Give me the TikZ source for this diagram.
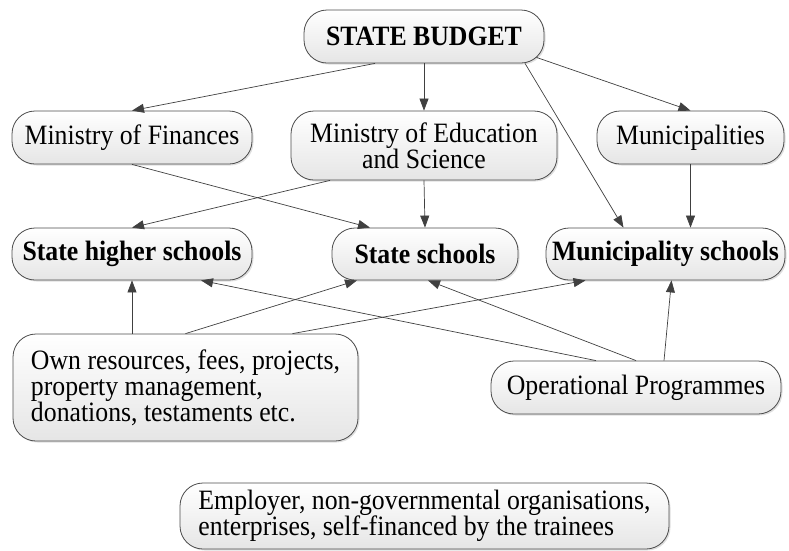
\documentclass[tikz,border=0pt]{standalone}
\usepackage{fontspec}
\setmainfont[FakeStretch=0.92]{Liberation Serif}
\usetikzlibrary{arrows.meta,shadows}
\tikzset{
  box/.style={draw=black!70,line width=0.8pt,rounded corners=23pt,top color=white,bottom color=black!10,
    drop shadow={shadow xshift=1.5pt,shadow yshift=-1.5pt,opacity=0.25},inner sep=0pt,
    font=\fontsize{28}{26}\selectfont},
  bbox/.style={box,font=\fontsize{28}{26}\selectfont\bfseries},
  flow/.style={-{Triangle[length=12pt,width=9pt]},draw=black!75,line width=0.7pt}
}
\begin{document}
\begin{tikzpicture}[x=1pt,y=-1pt]
    \useasboundingbox (0,0) rectangle (789,550);
    \node[bbox,minimum width=240pt,minimum height=53pt](budget)at(424,36.5){STATE BUDGET};
    \node[box,minimum width=240pt,minimum height=53pt](fin)at(132,137.5){Ministry of Finances};
    \node[box,minimum width=266pt,minimum height=69pt,align=center](edu)at(424,145.5){Ministry of Education\\and Science};
    \node[box,minimum width=187pt,minimum height=53pt](mun)at(690.5,137.5){Municipalities};
    \node[bbox,minimum width=240pt,minimum height=52pt](higher)at(132,254){State higher schools};
    \node[bbox,minimum width=186pt,minimum height=52pt](state)at(425,254){State schools};
    \node[bbox,minimum width=239pt,minimum height=52pt](munsch)at(665.5,254){Municipality schools};
    \node[box,minimum width=345pt,minimum height=107pt,align=left](own)at(185.5,387.5){Own resources, fees, projects,\\property management,\\donations, testaments etc.};
    \node[box,minimum width=290pt,minimum height=53pt](op)at(636,387.5){Operational Programmes};
    \node[box,minimum width=489pt,minimum height=66pt,align=left](emp)at(424.5,516){Employer, non-governmental organisations,\\enterprises, self-financed by the trainees};
    % budget lines
    \draw[flow]([xshift=-49pt]budget.south)--(fin.north);
    \draw[flow](budget.south)--(edu.north);
    \draw[flow]([xshift=-8pt,yshift=6pt]budget.south east)--(mun.north);
    \draw[flow]([xshift=101pt]budget.south)--([xshift=-42pt]munsch.north);
    % ministries to schools
    \draw[flow](fin.south)--([xshift=-55pt]state.north);
    \draw[flow]([xshift=-94pt]edu.south)--(higher.north);
    \draw[flow](edu.south)--(state.north);
    \draw[flow](mun.south)--(mun.south|-munsch.north);
    % other sources
    \draw[flow](own.north-|higher.south)--(higher.south);
    \draw[flow](own.north)--([xshift=-68pt]state.south);
    \draw[flow]([xshift=107pt]own.north)--([xshift=-80pt]munsch.south);
    \draw[flow]([xshift=-40pt]op.north)--([xshift=69pt]higher.south);
    \draw[flow](op.north)--([xshift=3pt]state.south);
    \draw[flow]([xshift=28pt]op.north)--([xshift=6pt]munsch.south);
\end{tikzpicture}
\end{document}
